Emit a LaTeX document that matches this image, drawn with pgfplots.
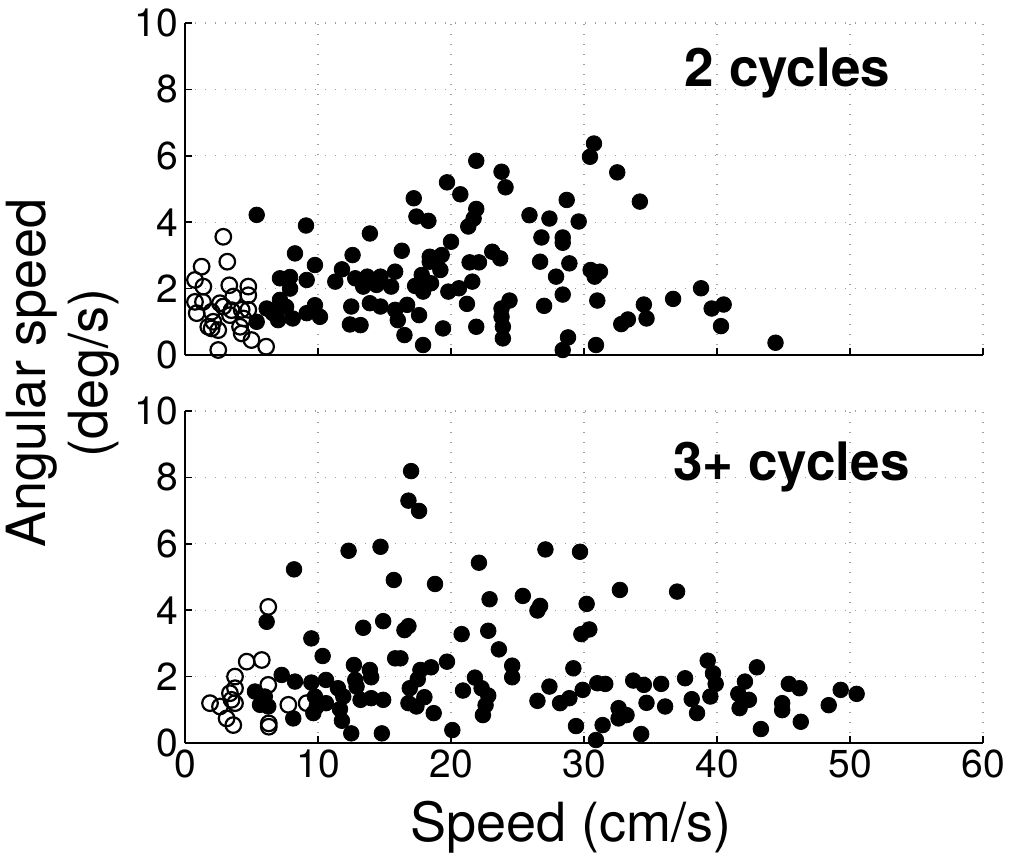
\documentclass[border=0pt]{standalone}
\usepackage{fontspec}
\setmainfont{TeX Gyre Heros}
\usepackage{pgfplots}
\pgfplotsset{compat=1.18}

\pgfplotsset{
  myax/.style={
    scale only axis,
    width=399pt, height=166pt,
    xmin=0, xmax=60, ymin=0, ymax=10,
    xtick={0,10,...,60}, ytick={0,2,...,10},
    axis x line*=bottom, axis y line*=left,
    axis line style={line width=0.9pt, -},
    tick align=inside, tick pos=left,
    major tick length=3.5pt,
    every tick/.style={black, line width=0.8pt},
    grid=major,
    major grid style={gray!75, line width=0.6pt, dash pattern=on 0.6pt off 4.4pt},
    /pgf/number format/assume math mode=true,
    tick label style={font=\fontsize{19.5}{22}\selectfont},
    clip=false,
  },
  fill/.style={only marks, mark=*, mark size=3.9pt,
    mark options={fill=black, draw=black, line width=0.4pt}},
  open/.style={only marks, mark=o, mark size=3.9pt,
    mark options={draw=black, line width=1.1pt}},
}

\begin{document}
\begin{tikzpicture}
% ---------------- bottom: 3+ cycles ----------------
\begin{axis}[myax, at={(0,0)}, anchor=south west,
  xlabel={Speed (cm/s)},
  xlabel style={at={(axis description cs:0.4837,0)}, anchor=base, yshift=-49pt,
    font=\fontsize{27}{31}\selectfont},
  ylabel={Angular speed\\(deg/s)},
  ylabel style={at={(axis description cs:-0.1529,1.1145)}, anchor=center,
    align=center, font=\fontsize{27}{31}\selectfont},
]
\addplot[open] coordinates {
(6.26,4.1) (4.64,2.45) (5.77,2.5) (3.76,2.0) (3.76,1.65) (3.38,1.5) (6.26,1.75)
(1.88,1.2) (2.63,1.1) (3.76,1.2) (3.13,0.74) (3.63,0.54) (6.3,0.59) (6.3,0.49)
(7.77,1.15) (9.15,1.2) (3.5,1.3)
};
\addplot[fill] coordinates {
(8.2,5.23) (6.14,3.65) (9.5,3.15) (10.35,2.62) (7.27,2.05) (8.27,1.85) (9.5,1.82)
(10.6,1.9) (11.5,1.65) (5.26,1.55) (6.0,1.4) (5.64,1.15) (6.26,1.1) (9.77,1.4)
(9.9,1.1) (9.65,0.9) (10.6,1.2) (8.14,0.74) (11.8,0.67)
(17.0,8.19) (16.8,7.3) (17.6,6.99) (12.3,5.79) (14.7,5.91) (22.1,5.43) (15.7,4.91)
(18.8,4.79) (22.9,4.33) (25.4,4.43) (13.4,3.47) (14.9,3.67) (16.5,3.4) (16.8,3.52)
(20.8,3.28) (22.8,3.38) (23.6,2.82) (24.6,2.33) (24.6,1.98) (15.8,2.55) (16.2,2.55)
(19.7,2.45) (12.7,2.35) (13.9,2.2) (14.0,1.98) (12.8,1.9) (17.7,2.2) (18.5,2.28)
(17.5,1.92) (21.8,1.97) (22.3,1.65) (22.8,1.43) (22.6,1.14) (22.4,0.84) (20.9,1.58)
(11.9,1.4) (11.65,1.02) (12.5,0.29) (12.9,1.7) (13.2,1.3) (14.0,1.35) (14.9,1.3)
(16.9,1.65) (16.8,1.2) (17.4,1.1) (18.0,1.38) (18.7,0.9) (14.8,0.29) (20.1,0.39)
(27.1,5.83) (29.7,5.76) (32.7,4.61) (37.0,4.56) (26.7,4.13) (26.5,3.99) (30.2,4.19)
(30.4,3.42) (29.8,3.28) (29.2,2.25) (27.4,1.7) (26.5,1.27) (28.2,1.2) (28.9,1.35)
(29.9,1.6) (31.0,1.8) (31.6,1.78) (33.7,1.88) (34.5,1.75) (35.8,1.78) (37.6,1.95)
(39.3,2.48) (39.7,2.1) (38.1,1.32) (39.5,1.4) (38.5,0.9) (34.7,1.21) (36.1,1.1)
(32.6,1.05) (32.6,0.74) (33.2,0.84) (31.4,0.54) (29.4,0.51) (30.9,0.09) (34.3,0.27)
(39.9,1.78) (43.0,2.28) (42.1,1.85) (41.6,1.48) (42.4,1.3) (41.7,1.05) (45.4,1.78)
(46.2,1.65) (44.9,1.2) (44.9,0.99) (43.3,0.42) (46.3,0.64) (48.4,1.14) (49.3,1.6)
(50.5,1.48)
};
\node[anchor=base, font=\fontsize{26.5}{30}\selectfont\bfseries] at (axis cs:45.6,7.92) {3+ cycles};
\end{axis}
% ---------------- top: 2 cycles ----------------
\begin{axis}[myax, at={(0,194pt)}, anchor=south west, xticklabels={}]
\addplot[open] coordinates {
(2.88,3.56) (3.18,2.81) (1.25,2.66) (0.75,2.26) (1.38,2.06) (3.33,2.1) (4.76,2.06)
(4.76,1.8) (3.63,1.76) (0.75,1.6) (1.35,1.6) (2.63,1.56) (2.88,1.46) (0.88,1.26)
(2.0,1.3) (4.26,1.36) (4.76,1.36) (3.38,1.2) (2.13,1.0) (4.39,1.1) (2.0,0.8)
(2.5,0.75) (4.14,0.85) (4.26,0.65) (5.0,0.45) (2.5,0.15) (6.1,0.25) (1.75,0.85)
(3.5,1.35)
};
\addplot[fill] coordinates {
(5.39,4.22) (9.1,3.9) (8.27,3.06) (9.77,2.71) (7.14,2.31) (7.9,2.35) (9.15,2.26)
(7.9,2.0) (7.14,1.66) (9.77,1.5) (6.14,1.4) (5.39,1.0) (7.0,1.05) (8.1,1.1)
(9.15,1.26) (10.15,1.15) (6.6,1.26) (7.6,1.45)
(21.9,5.85) (23.8,5.52) (24.1,5.05) (19.7,5.2) (20.7,4.84) (17.2,4.72) (21.9,4.4)
(21.7,4.11) (21.3,3.87) (17.4,4.17) (18.3,4.04) (25.9,4.21) (13.9,3.66) (20.0,3.41)
(12.6,3.01) (16.3,3.14) (23.1,3.11) (23.7,2.91) (19.3,3.01) (18.4,2.96) (18.4,2.81)
(21.4,2.79) (22.1,2.79) (11.8,2.58) (11.3,2.21) (12.8,2.31) (13.7,2.36) (14.7,2.36)
(15.8,2.51) (13.4,2.06) (14.4,2.11) (15.5,2.06) (17.8,2.41) (19.2,2.56) (17.3,2.08)
(17.9,1.91) (18.5,2.16) (19.8,1.91) (20.6,2.01) (21.6,2.21) (24.4,1.64) (23.8,1.4)
(23.8,1.15) (23.9,0.85) (23.9,0.5) (12.5,1.46) (13.9,1.56) (14.7,1.46) (15.8,1.36)
(16.7,1.51) (16.0,1.05) (17.6,1.2) (21.2,1.54) (12.4,0.92) (13.2,0.9) (16.5,0.6)
(19.4,0.8) (21.9,0.85) (17.9,0.3)
(30.75,6.37) (30.45,5.97) (32.5,5.5) (34.2,4.62) (28.7,4.67) (27.4,4.11) (29.6,4.02)
(26.8,3.54) (28.4,3.54) (28.4,3.38) (26.7,2.81) (28.9,2.76) (27.9,2.36) (30.5,2.56)
(31.2,2.51) (30.8,2.36) (28.4,1.82) (27.0,1.48) (31.0,1.64) (36.7,1.69) (38.8,2.01)
(39.6,1.4) (40.5,1.52) (40.3,0.87) (34.5,1.52) (34.7,1.1) (33.3,1.07) (32.8,0.93)
(28.8,0.53) (28.4,0.15) (30.9,0.3) (44.4,0.37)
};
\node[anchor=base, font=\fontsize{26.5}{30}\selectfont\bfseries] at (axis cs:45.3,8.1) {2 cycles};
\end{axis}
\pgfresetboundingbox
\path[use as bounding box] (-92.5pt,-59pt) rectangle (415.5pt,371.5pt);
\end{tikzpicture}
\end{document}
